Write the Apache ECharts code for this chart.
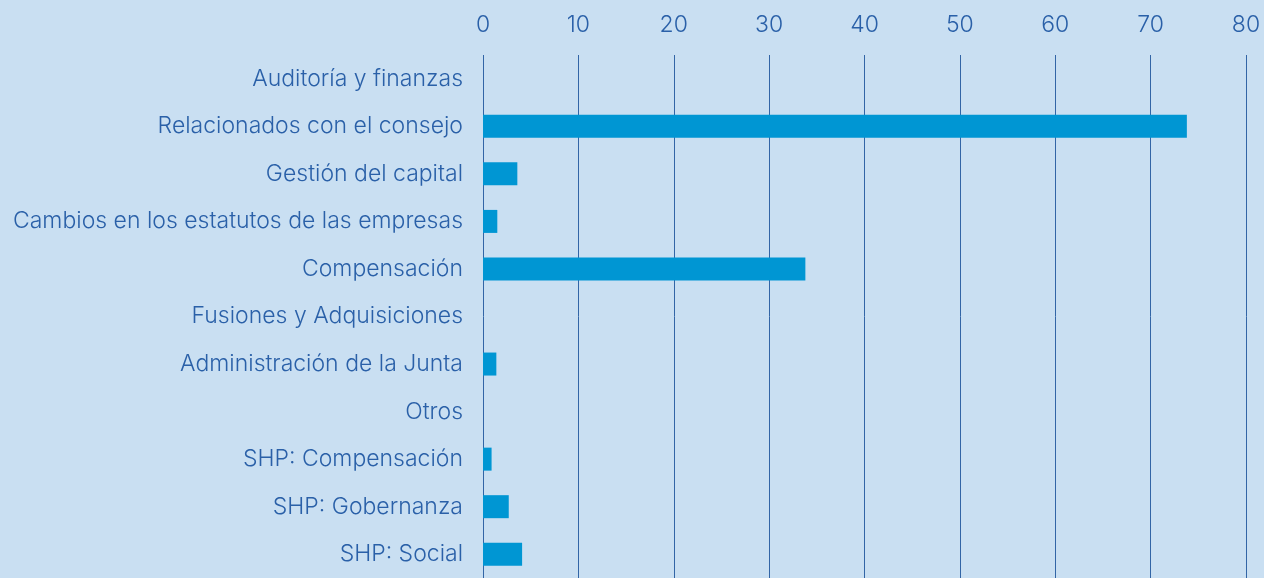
<!DOCTYPE html>
<html>
<head>
<meta charset="utf-8">
<title></title>
<script src="https://cdn.jsdelivr.net/npm/echarts@6/dist/echarts.min.js"></script>
<style>
  html, body { margin: 0; padding: 0; background: #c9dff2; }
  #main { width: 1264px; height: 578px; }
</style>
</head>
<body>
<div id="main"></div>
<script type="text/javascript">
// categorias y valores
var categorias = [
  'Auditoría y finanzas',
  'Relacionados con el consejo',
  'Gestión del capital',
  'Cambios en los estatutos de las empresas',
  'Compensación',
  'Fusiones y Adquisiciones',
  'Administración de la Junta',
  'Otros',
  'SHP: Compensación',
  'SHP: Gobernanza',
  'SHP: Social'
];
var valores = [0, 73.8, 3.6, 1.5, 33.8, 0, 1.4, 0, 0.9, 2.7, 4.1];
var ticks = [0, 10, 20, 30, 40, 50, 60, 70, 80];

var myChart = echarts.init(document.getElementById('main'));
var option = {
  backgroundColor: '#c9dff2',
  textStyle: { fontFamily: 'Inter' },
  grid: { left: 483, right: 18, top: 55, height: 527 },
  xAxis: {
    type: 'value',
    position: 'top',
    min: ticks[0],
    max: ticks[ticks.length - 1],
    interval: 10,
    axisLine: { show: false },
    axisTick: { show: false },
    axisLabel: { color: '#2a60a8', fontSize: 23, fontWeight: 300, margin: 18 },
    splitLine: { show: true, lineStyle: { color: '#3265a6', width: 1 } }
  },
  yAxis: {
    type: 'category',
    inverse: true,
    data: categorias,
    axisLine: { show: false },
    axisTick: { show: false },
    axisLabel: { color: '#2a60a8', fontSize: 23, fontWeight: 300, margin: 20 }
  },
  series: [{
    type: 'bar',
    data: valores,
    barWidth: 23,
    itemStyle: { color: '#0096d3' },
    silent: true
  }],
  animation: false
};
myChart.setOption(option);
</script>
</body>
</html>
